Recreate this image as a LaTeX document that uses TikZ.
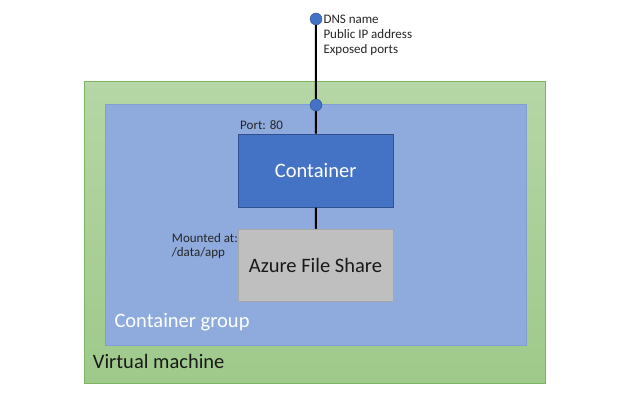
\documentclass[tikz,border=0pt]{standalone}
\usepackage{fontspec}
\setmainfont{Carlito}
\definecolor{vmtop}{HTML}{B5D6A5}
\definecolor{vmbot}{HTML}{9FC98B}
\definecolor{vmline}{HTML}{7DB563}
\definecolor{grpfill}{HTML}{8FAADC}
\definecolor{grpline}{HTML}{7F9ED4}
\definecolor{ctrfill}{HTML}{4472C4}
\definecolor{ctrline}{HTML}{2F528F}
\definecolor{sharefill}{HTML}{BFBFBF}
\definecolor{shareline}{HTML}{A6A6A6}
\tikzset{
  box/.style={rectangle, inner sep=0pt, line width=1pt},
  bigtext/.style={font=\fontsize{20.5}{24}\selectfont, inner sep=0pt},
  smalltext/.style={font=\fontsize{13}{15}\selectfont, inner sep=0pt, text=black!85, anchor=base west},
  dot/.style={circle, fill=ctrfill, draw=ctrline, line width=0.4pt, minimum size=12pt, inner sep=0pt},
  wire/.style={line width=2pt, black}
}
\begin{document}
\begin{tikzpicture}[x=1pt,y=-1pt]
\useasboundingbox[fill=white] (0,0) rectangle (617,401);
\node[box, draw=vmline, top color=vmtop, bottom color=vmbot, minimum width=461pt, minimum height=301pt] (vm) at (314.5,232.5) {};
\node[box, draw=grpline, fill=grpfill, minimum width=421pt, minimum height=241pt] (grp) at (315.5,224.5) {};
\node[box, draw=ctrline, fill=ctrfill, minimum width=155pt, minimum height=73pt] (ctr) at (315.8,170.7) {};
\node[box, draw=shareline, fill=sharefill, minimum width=155pt, minimum height=72.5pt] (share) at (316,265.5) {};
\node[dot] (dnsdot) at (316,19) {};
\coordinate (gtop) at (316,105);
\draw[wire] (dnsdot) -- (ctr.north);
\draw[wire] (ctr.south) -- (share.north);
\node[dot] (portdot) at (gtop) {};
\node[bigtext, text=white, anchor=base] (ctrlabel) at (315.7,177.7) {Container};
\node[bigtext, text=black!90, anchor=base] (sharelabel) at (315.5,272.7) {Azure File Share};
\node[bigtext, text=white, anchor=base west] (grplabel) at (114.3,327.3) {Container group};
\node[bigtext, text=black!90, anchor=base west] (vmlabel) at (92.7,368.3) {Virtual machine};
\node[smalltext] (dns) at (323.3,23.4) {DNS name};
\node[smalltext] (pip) at (323.3,38.2) {Public IP address};
\node[smalltext] (ports) at (323.3,53.8) {Exposed ports};
\node[smalltext] (port) at (240,129) {Port: 80};
\node[smalltext] (mnt) at (171.7,242.3) {Mounted at:};
\node[smalltext] (path) at (171.7,256.8) {/data/app};
\end{tikzpicture}
\end{document}
